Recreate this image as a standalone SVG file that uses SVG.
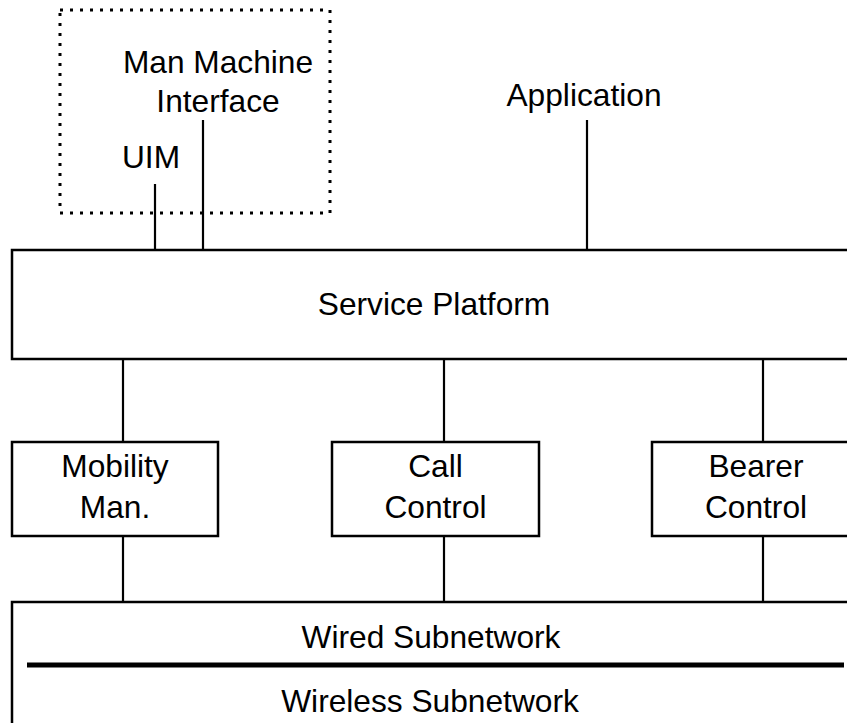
<svg xmlns="http://www.w3.org/2000/svg" width="847" height="723" viewBox="0 0 847 723">
  <style>
    text { font-family: "Liberation Sans", Arial, sans-serif; font-size: 31.7px; fill: #000; text-anchor: middle; }
    .box { fill: #fff; stroke: #000; stroke-width: 2.5; }
    .wire { stroke: #000; stroke-width: 2.2; fill: none; }
    .dotted { fill: none; stroke: #000; stroke-width: 3; stroke-dasharray: 3 7; }
  </style>
  <rect width="847" height="723" fill="#fff"/>

  <!-- connectors -->
  <g id="connectors">
    <line class="wire" x1="155" y1="184" x2="155" y2="250"/>
    <line class="wire" x1="203" y1="120" x2="203" y2="250"/>
    <line class="wire" x1="587" y1="120" x2="587" y2="250"/>
    <line class="wire" x1="123" y1="359" x2="123" y2="442"/>
    <line class="wire" x1="444" y1="359" x2="444" y2="442"/>
    <line class="wire" x1="763" y1="359" x2="763" y2="442"/>
    <line class="wire" x1="123" y1="536" x2="123" y2="602"/>
    <line class="wire" x1="444" y1="536" x2="444" y2="602"/>
    <line class="wire" x1="763" y1="536" x2="763" y2="602"/>
  </g>

  <!-- terminal group (dotted outline) -->
  <g id="terminal">
    <rect class="dotted" x="60" y="10" width="270" height="203"/>
    <text x="218" y="73">Man Machine</text>
    <text x="218" y="112">Interface</text>
    <text x="151" y="168">UIM</text>
  </g>

  <g id="application">
    <text x="584" y="106">Application</text>
  </g>

  <g id="service-platform">
    <rect class="box" x="12" y="250" width="850" height="109"/>
    <text x="434" y="315">Service Platform</text>
  </g>

  <g id="mobility-man">
    <rect class="box" x="12" y="442" width="206" height="94"/>
    <text x="115" y="477">Mobility</text>
    <text x="115" y="518">Man.</text>
  </g>

  <g id="call-control">
    <rect class="box" x="332" y="442" width="207" height="94"/>
    <text x="435.5" y="477">Call</text>
    <text x="435.5" y="518">Control</text>
  </g>

  <g id="bearer-control">
    <rect class="box" x="652" y="442" width="210" height="94"/>
    <text x="756" y="477">Bearer</text>
    <text x="756" y="518">Control</text>
  </g>

  <g id="subnetworks">
    <rect class="box" x="12" y="602" width="850" height="140"/>
    <text x="431" y="648">Wired Subnetwork</text>
    <line x1="27" y1="665" x2="844" y2="665" stroke="#000" stroke-width="5"/>
    <text x="430" y="712">Wireless Subnetwork</text>
  </g>
</svg>
